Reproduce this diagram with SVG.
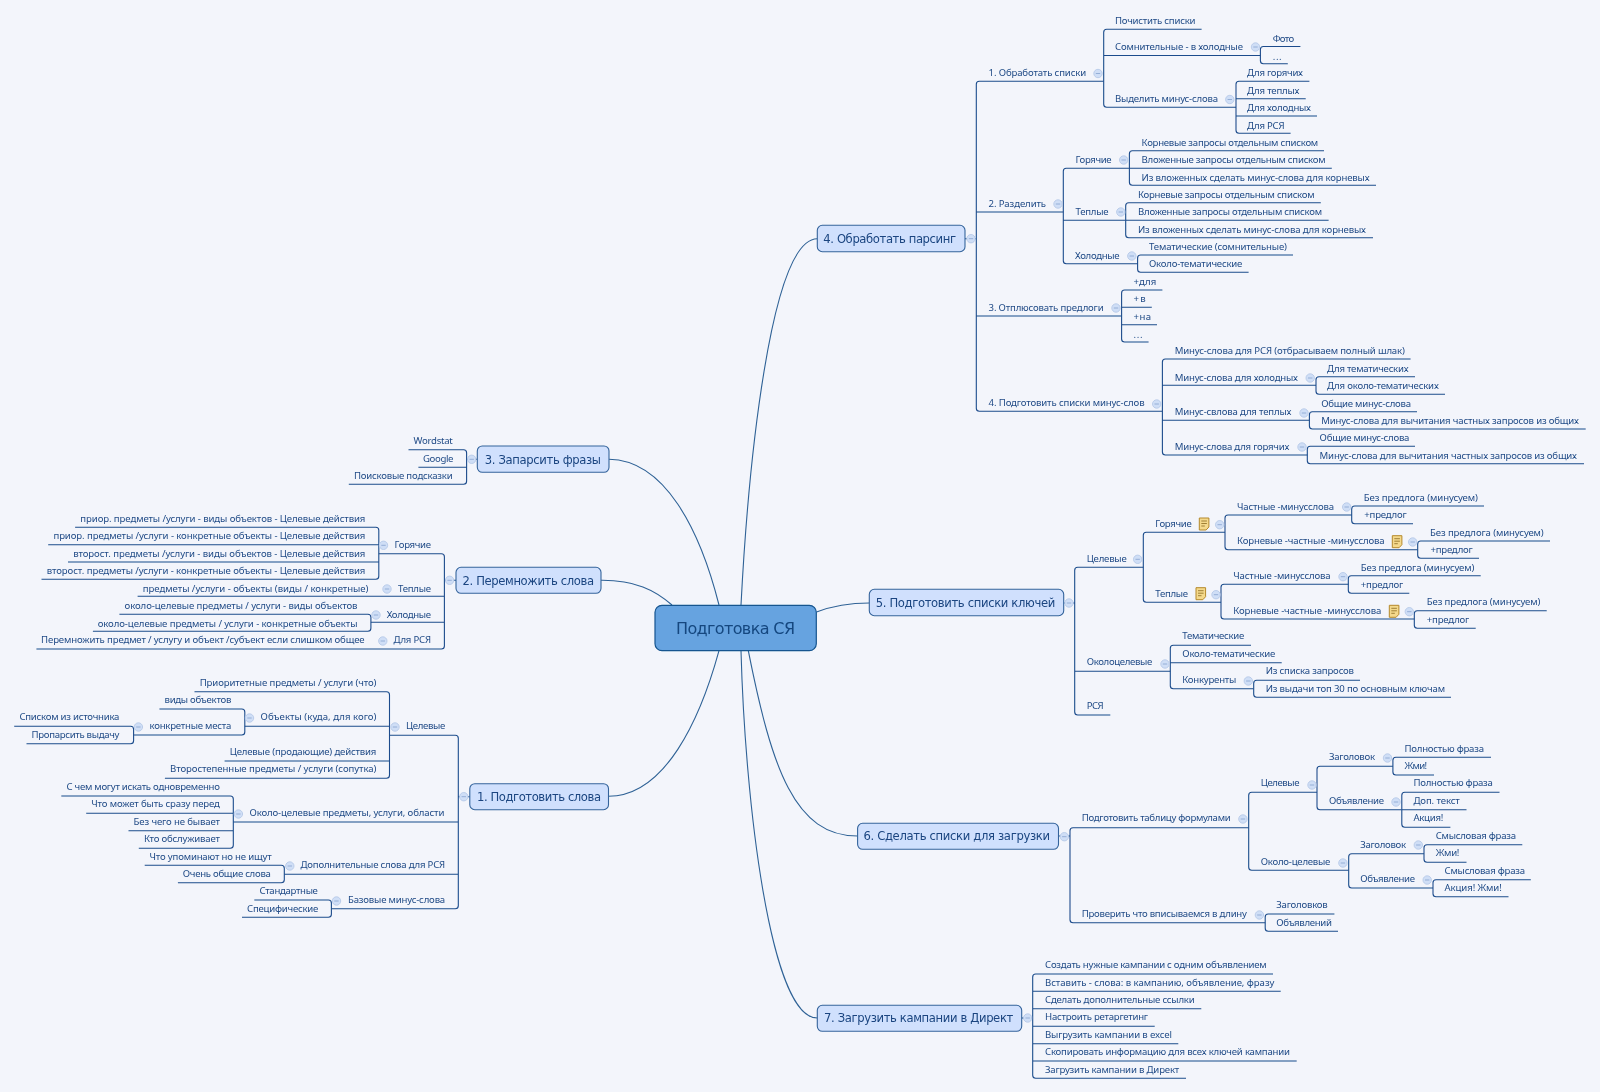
<svg xmlns="http://www.w3.org/2000/svg" width="1600" height="1092" viewBox="0 0 1600 1092">
<style>
text{font-family:"Noto Sans","DejaVu Sans",sans-serif;fill:#1f4a86}
.t{font-size:9.6px;transform:translateY(-.7px)}
.m{font-family:"DejaVu Sans",sans-serif;font-size:11.6px;fill:#1a4580}
.r{font-family:"DejaVu Sans",sans-serif;font-size:16px;fill:#14477f}
.box{fill:#d0e0fd;stroke:#34649c;stroke-width:1.1}
.root{fill:#66a3e0;stroke:#14548f;stroke-width:1.2}
#connectors path{fill:none;stroke:#1c4c8c;stroke-width:1.1}
#connectors .cv{stroke:#2f6296}
#c circle{fill:#cfdef6;stroke:#b7c9e8;stroke-width:.9}
#c path{stroke:#8ea9d4;stroke-width:.9;fill:none}
#connectors,#root,g[id^="t"]{filter:url(#s)}
</style>
<defs>
<filter id="s" x="-5%" y="-5%" width="110%" height="110%"><feGaussianBlur stdDeviation="0.3"/></filter>
<g id="c"><circle r="4.2"/><path d="M-2.2,0H2.2"/></g>
<g id="n"><path d="M0,0H9.6V9L6.8,12H0Z" fill="#f4d98c" stroke="#b5892b" stroke-width="1"/><path d="M2,3H7.6M2,5.5H7.6M2,8H5.5" stroke="#8a6a20" stroke-width=".8" fill="none"/></g>
</defs>
<rect width="1600" height="1092" fill="#f3f5fb"/>
<g id="connectors">
<path class="cv" d="M741,605C748,470 770,239 817.3,238.7"/>
<path class="cv" d="M816.5,612C835,605 850,603 869.3,603"/>
<path class="cv" d="M748.3,650.7C772,770 795,836 857.6,836"/>
<path class="cv" d="M741,650.7C745,800 770,1018 817.3,1018"/>
<path class="cv" d="M609,459.3C665,460 700,530 719,605"/>
<path class="cv" d="M601,580.3C635,580 655,590 672,605"/>
<path class="cv" d="M608.5,796.3C665,796 700,720 719,650.7"/>
<path d="M1103.7,81.3H979.3Q976.3,81.3 976.3,84.3V408.3Q976.3,411.3 979.3,411.3H1162.4M976.3,212H1063.3M976.3,316H1121.6M965,238.7H976.3"/>
<path d="M1201.6,29.3H1106.7Q1103.7,29.3 1103.7,32.3V104.3Q1103.7,107.3 1106.7,107.3H1236M1103.7,55.5H1260.4"/>
<path d="M1300.4,46.5H1263.4Q1260.4,46.5 1260.4,49.5V60.7Q1260.4,63.7 1263.4,63.7H1287.8"/>
<path d="M1309.4,81.3H1239Q1236,81.3 1236,84.3V130.3Q1236,133.3 1239,133.3H1290.6M1236,98.7H1305.7M1236,116H1317"/>
<path d="M1129.4,168.3H1066.3Q1063.3,168.3 1063.3,171.3V260.7Q1063.3,263.7 1066.3,263.7H1137.6M1063.3,220.3H1125.7"/>
<path d="M1324,150.7H1132.4Q1129.4,150.7 1129.4,153.7V182.3Q1129.4,185.3 1132.4,185.3H1376M1129.4,168.3H1331.8"/>
<path d="M1320.8,202.7H1128.7Q1125.7,202.7 1125.7,205.7V234.7Q1125.7,237.7 1128.7,237.7H1373M1125.7,220.3H1328.6"/>
<path d="M1293,255H1140.6Q1137.6,255 1137.6,258V269.3Q1137.6,272.3 1140.6,272.3H1248.6"/>
<path d="M1162.4,290H1124.6Q1121.6,290 1121.6,293V339Q1121.6,342 1124.6,342H1148.6M1121.6,307.3H1151.8M1121.6,324.7H1157"/>
<path d="M1410.6,359H1165.4Q1162.4,359 1162.4,362V452Q1162.4,455 1165.4,455H1307.3M1162.4,385.3H1316M1162.4,420.3H1309.4"/>
<path d="M1415,376.7H1319Q1316,376.7 1316,379.7V391.3Q1316,394.3 1319,394.3H1445"/>
<path d="M1417,411.7H1312.4Q1309.4,411.7 1309.4,414.7V426Q1309.4,429 1312.4,429H1585.7"/>
<path d="M1415,446.3H1310.3Q1307.3,446.3 1307.3,449.3V460.7Q1307.3,463.7 1310.3,463.7H1584"/>
<path d="M1143.3,567.3H1077.7Q1074.7,567.3 1074.7,570.3V712Q1074.7,715 1077.7,715H1110.3M1074.7,671.3H1170.3M1063.7,603H1074.7"/>
<path d="M1225,532.3H1146.3Q1143.3,532.3 1143.3,535.3V599.3Q1143.3,602.3 1146.3,602.3H1221"/>
<path d="M1351.7,515H1228Q1225,515 1225,518V546.7Q1225,549.7 1228,549.7H1417.7"/>
<path d="M1484,506H1354.7Q1351.7,506 1351.7,509V520.7Q1351.7,523.7 1354.7,523.7H1413"/>
<path d="M1550,541H1420.7Q1417.7,541 1417.7,544V555.3Q1417.7,558.3 1420.7,558.3H1479"/>
<path d="M1348.3,584.3H1224Q1221,584.3 1221,587.3V616Q1221,619 1224,619H1414.3"/>
<path d="M1480.7,575.7H1351.3Q1348.3,575.7 1348.3,578.7V590.3Q1348.3,593.3 1351.3,593.3H1409.3"/>
<path d="M1546.7,610.7H1417.3Q1414.3,610.7 1414.3,613.7V625.3Q1414.3,628.3 1417.3,628.3H1475.7"/>
<path d="M1251,645.3H1173.3Q1170.3,645.3 1170.3,648.3V685.7Q1170.3,688.7 1173.3,688.7H1253.7M1170.3,662.7H1281.7"/>
<path d="M1360,680.3H1256.7Q1253.7,680.3 1253.7,683.3V694.3Q1253.7,697.3 1256.7,697.3H1451"/>
<path d="M1248.7,827.7H1073Q1070,827.7 1070,830.7V919.7Q1070,922.7 1073,922.7H1265.2M1058.5,836H1070"/>
<path d="M1317,792.3H1251.7Q1248.7,792.3 1248.7,795.3V867.3Q1248.7,870.3 1251.7,870.3H1348.7"/>
<path d="M1392.9,766.3H1320Q1317,766.3 1317,769.3V806.7Q1317,809.7 1320,809.7H1401.8"/>
<path d="M1491,757.3H1395.9Q1392.9,757.3 1392.9,760.3V772Q1392.9,775 1395.9,775H1434"/>
<path d="M1499.5,792.3H1404.8Q1401.8,792.3 1401.8,795.3V824.3Q1401.8,827.3 1404.8,827.3H1450.4M1401.8,809.7H1466.5"/>
<path d="M1424,853.7H1351.7Q1348.7,853.7 1348.7,856.7V885Q1348.7,888 1351.7,888H1433"/>
<path d="M1522.3,844.7H1427Q1424,844.7 1424,847.7V859.3Q1424,862.3 1427,862.3H1466.5"/>
<path d="M1530.8,879.7H1436Q1433,879.7 1433,882.7V893.7Q1433,896.7 1436,896.7H1508.5"/>
<path d="M1334.4,914H1268.2Q1265.2,914 1265.2,917V928.3Q1265.2,931.3 1268.2,931.3H1338"/>
<path d="M1273,974H1035.7Q1032.7,974 1032.7,977V1075.3Q1032.7,1078.3 1035.7,1078.3H1186M1032.7,991.3H1280.7M1032.7,1008.7H1201.3M1032.7,1026.3H1154.7M1032.7,1043.7H1178.3M1032.7,1061H1296.7M1021.7,1018H1032.7"/>
<path d="M408.5,449.7H463.6Q466.6,449.7 466.6,452.7V481.3Q466.6,484.3 463.6,484.3H348.8M466.6,467.3H418.4M477.3,459.3H466.6"/>
<path d="M378.8,553.7H441.4Q444.4,553.7 444.4,556.7V646Q444.4,649 441.4,649H36.4M444.4,596.3H137.6M444.4,622.3H370.9M456,580.3H444.4"/>
<path d="M75.1,527.3H375.8Q378.8,527.3 378.8,530.3V576.3Q378.8,579.3 375.8,579.3H41.5M378.8,544.7H48.2M378.8,562H68"/>
<path d="M119.4,614.3H367.9Q370.9,614.3 370.9,617.3V628.3Q370.9,631.3 367.9,631.3H92.9"/>
<path d="M389.5,735.3H455.3Q458.3,735.3 458.3,738.3V905.7Q458.3,908.7 455.3,908.7H331.4M458.3,822H233.3M458.3,874.3H284.3M469.8,796.7H458.3"/>
<path d="M194.5,691.7H386.5Q389.5,691.7 389.5,694.7V775.3Q389.5,778.3 386.5,778.3H164.9M389.5,726.3H244.8M389.5,761H224.6"/>
<path d="M159.4,709H241.8Q244.8,709 244.8,712V732Q244.8,735 241.8,735H133.6"/>
<path d="M14.2,726.3H130.6Q133.6,726.3 133.6,729.3V740.7Q133.6,743.7 130.6,743.7H26.5"/>
<path d="M61.3,796H230.3Q233.3,796 233.3,799V845.3Q233.3,848.3 230.3,848.3H138.8M233.3,813.3H86.2M233.3,830.7H128.5"/>
<path d="M144.7,865.3H281.3Q284.3,865.3 284.3,868.3V879.7Q284.3,882.7 281.3,882.7H177.9"/>
<path d="M254.3,900H328.4Q331.4,900 331.4,903V914.3Q331.4,917.3 328.4,917.3H242"/>
</g>
<g id="root"><rect class="root" x="655" y="605.3" width="161.3" height="45.4" rx="7"/><text class="r" x="676" y="634" textLength="119">Подготовка СЯ</text></g>

<g id="t4"><rect class="box" x="817.3" y="225.3" width="147.7" height="26.4" rx="5"/><text class="m" x="823.3" y="243" textLength="132.7">4. Обработать парсинг</text><use href="#c" x="971" y="238.7"/></g>
<g id="t4-1"><text class="t" x="988.6" y="76.8" textLength="97.6">1. Обработать списки</text><use href="#c" x="1098" y="73.5"/></g>
<g id="t4-1-1"><text class="t" x="1115" y="24.5" textLength="80.5">Почистить списки</text></g>
<g id="t4-1-2"><text class="t" x="1115" y="50.5" textLength="128">Сомнительные - в холодные</text><use href="#c" x="1255.5" y="47"/></g>
<g id="t4-1-2-1"><text class="t" x="1272.7" y="42.5" textLength="21.5">Фото</text></g>
<g id="t4-1-2-2"><text class="t" x="1272.7" y="60.5" textLength="9">...</text></g>
<g id="t4-1-3"><text class="t" x="1115" y="103" textLength="103">Выделить минус-слова</text><use href="#c" x="1229.8" y="99.5"/></g>
<g id="t4-1-3-1"><text class="t" x="1247" y="77" textLength="56">Для горячих</text></g>
<g id="t4-1-3-2"><text class="t" x="1247" y="94.5" textLength="52.5">Для теплых</text></g>
<g id="t4-1-3-3"><text class="t" x="1247" y="111.5" textLength="64">Для холодных</text></g>
<g id="t4-1-3-4"><text class="t" x="1247" y="129.5" textLength="37.5">Для РСЯ</text></g>
<g id="t4-2"><text class="t" x="988.6" y="207.5" textLength="57.5">2. Разделить</text><use href="#c" x="1058" y="204"/></g>
<g id="t4-2-1"><text class="t" x="1075.5" y="164" textLength="36">Горячие</text><use href="#c" x="1123.7" y="160"/></g>
<g id="t4-2-1-1"><text class="t" x="1141.6" y="146.5" textLength="176.6">Корневые запросы отдельным списком</text></g>
<g id="t4-2-1-2"><text class="t" x="1141.6" y="164" textLength="184">Вложенные запросы отдельным списком</text></g>
<g id="t4-2-1-3"><text class="t" x="1141.6" y="181.5" textLength="228">Из вложенных сделать минус-слова для корневых</text></g>
<g id="t4-2-2"><text class="t" x="1075.5" y="215.5" textLength="33">Теплые</text><use href="#c" x="1120.8" y="212"/></g>
<g id="t4-2-2-1"><text class="t" x="1138" y="198.5" textLength="176.6">Корневые запросы отдельным списком</text></g>
<g id="t4-2-2-2"><text class="t" x="1138" y="216" textLength="184">Вложенные запросы отдельным списком</text></g>
<g id="t4-2-2-3"><text class="t" x="1138" y="233.5" textLength="228">Из вложенных сделать минус-слова для корневых</text></g>
<g id="t4-2-3"><text class="t" x="1075" y="259.5" textLength="44.6">Холодные</text><use href="#c" x="1131.8" y="256"/></g>
<g id="t4-2-3-1"><text class="t" x="1149" y="250.5" textLength="138">Тематические (сомнительные)</text></g>
<g id="t4-2-3-2"><text class="t" x="1149" y="268.2" textLength="93.4">Около-тематические</text></g>
<g id="t4-3"><text class="t" x="988.6" y="311.5" textLength="115">3. Отплюсовать предлоги</text><use href="#c" x="1116" y="308"/></g>
<g id="t4-3-1"><text class="t" x="1133.5" y="285.5" textLength="22.8">+для</text></g>
<g id="t4-3-2"><text class="t" x="1133.5" y="303.2" textLength="12.2">+в</text></g>
<g id="t4-3-3"><text class="t" x="1133.5" y="320.5" textLength="17.5">+на</text></g>
<g id="t4-3-4"><text class="t" x="1133.5" y="338.5" textLength="9">...</text></g>
<g id="t4-4"><text class="t" x="988.6" y="407.2" textLength="156">4. Подготовить списки минус-слов</text><use href="#c" x="1156.7" y="404"/></g>
<g id="t4-4-1"><text class="t" x="1174.7" y="355.2" textLength="230.2">Минус-слова для РСЯ (отбрасываем полный шлак)</text></g>
<g id="t4-4-2"><text class="t" x="1174.7" y="381.5" textLength="123.3">Минус-слова для холодных</text><use href="#c" x="1310.2" y="378"/></g>
<g id="t4-4-2-1"><text class="t" x="1327" y="372.5" textLength="81.6">Для тематических</text></g>
<g id="t4-4-2-2"><text class="t" x="1327" y="389.5" textLength="111.8">Для около-тематических</text></g>
<g id="t4-4-3"><text class="t" x="1174.7" y="416.2" textLength="116.7">Минус-свлова для теплых</text><use href="#c" x="1304" y="413"/></g>
<g id="t4-4-3-1"><text class="t" x="1321.2" y="407.5" textLength="89.8">Общие минус-слова</text></g>
<g id="t4-4-3-2"><text class="t" x="1321.2" y="424.5" textLength="257.8">Минус-слова для вычитания частных запросов из общих</text></g>
<g id="t4-4-4"><text class="t" x="1174.7" y="450.5" textLength="114.7">Минус-слова для горячих</text><use href="#c" x="1302" y="447"/></g>
<g id="t4-4-4-1"><text class="t" x="1319.6" y="442.2" textLength="89.8">Общие минус-слова</text></g>
<g id="t4-4-4-2"><text class="t" x="1319.6" y="459.5" textLength="257.4">Минус-слова для вычитания частных запросов из общих</text></g>

<g id="t5"><rect class="box" x="869.3" y="589.3" width="194.4" height="26.4" rx="5"/><text class="m" x="875.7" y="607.3" textLength="179.6">5. Подготовить списки ключей</text><use href="#c" x="1069" y="603"/></g>
<g id="t5-1"><text class="t" x="1086.7" y="562.8" textLength="40">Целевые</text><use href="#c" x="1137.7" y="559.3"/></g>
<g id="t5-1-1"><text class="t" x="1155.3" y="527.8" textLength="36.4">Горячие</text><use href="#n" x="1199.3" y="518"/><use href="#c" x="1219.7" y="524.7"/></g>
<g id="t5-1-1-1"><text class="t" x="1237" y="510.5" textLength="97">Частные -минусслова</text><use href="#c" x="1346.7" y="507"/></g>
<g id="t5-1-1-1-1"><text class="t" x="1363.7" y="501.8" textLength="114.3">Без предлога (минусуем)</text></g>
<g id="t5-1-1-1-2"><text class="t" x="1364.3" y="519.2" textLength="42.4">+предлог</text></g>
<g id="t5-1-1-2"><text class="t" x="1237" y="545.2" textLength="147.7">Корневые -частные -минусслова</text><use href="#n" x="1392.3" y="535.7"/><use href="#c" x="1412.7" y="542"/></g>
<g id="t5-1-1-2-1"><text class="t" x="1430" y="536.8" textLength="113.7">Без предлога (минусуем)</text></g>
<g id="t5-1-1-2-2"><text class="t" x="1430.5" y="554.2" textLength="42.2">+предлог</text></g>
<g id="t5-1-2"><text class="t" x="1155.3" y="597.5" textLength="32.7">Теплые</text><use href="#n" x="1196" y="587.7"/><use href="#c" x="1216" y="594.7"/></g>
<g id="t5-1-2-1"><text class="t" x="1233.3" y="580.2" textLength="97.4">Частные -минусслова</text><use href="#c" x="1343" y="576.7"/></g>
<g id="t5-1-2-1-1"><text class="t" x="1360.7" y="571.5" textLength="113.6">Без предлога (минусуем)</text></g>
<g id="t5-1-2-1-2"><text class="t" x="1360.7" y="588.8" textLength="42.6">+предлог</text></g>
<g id="t5-1-2-2"><text class="t" x="1233.3" y="614.8" textLength="148">Корневые -частные -минусслова</text><use href="#n" x="1389.3" y="605.3"/><use href="#c" x="1409.3" y="611.7"/></g>
<g id="t5-1-2-2-1"><text class="t" x="1426.7" y="606.2" textLength="113.6">Без предлога (минусуем)</text></g>
<g id="t5-1-2-2-2"><text class="t" x="1426.7" y="623.5" textLength="42.6">+предлог</text></g>
<g id="t5-2"><text class="t" x="1086.7" y="666.2" textLength="65.6">Околоцелевые</text><use href="#c" x="1165" y="664"/></g>
<g id="t5-2-1"><text class="t" x="1182.3" y="640.2" textLength="62">Тематические</text></g>
<g id="t5-2-2"><text class="t" x="1182.3" y="657.5" textLength="93">Около-тематические</text></g>
<g id="t5-2-3"><text class="t" x="1182.3" y="683.5" textLength="54">Конкуренты</text><use href="#c" x="1248.3" y="681"/></g>
<g id="t5-2-3-1"><text class="t" x="1265.7" y="674.9" textLength="88.3">Из списка запросов</text></g>
<g id="t5-2-3-2"><text class="t" x="1265.7" y="692.3" textLength="179.3">Из выдачи топ 30 по основным ключам</text></g>
<g id="t5-3"><text class="t" x="1086.7" y="709.5" textLength="17">РСЯ</text></g>

<g id="t6"><rect class="box" x="857.6" y="823.3" width="200.9" height="26" rx="5"/><text class="m" x="863.4" y="840.3" textLength="186.6">6. Сделать списки для загрузки</text><use href="#c" x="1064.3" y="836.7"/></g>
<g id="t6-1"><text class="t" x="1081.7" y="821.8" textLength="149">Подготовить таблицу формулами</text><use href="#c" x="1242.9" y="819"/></g>
<g id="t6-1-1"><text class="t" x="1260.7" y="787.2" textLength="38.8">Целевые</text><use href="#c" x="1312" y="785"/></g>
<g id="t6-1-1-1"><text class="t" x="1329" y="761.2" textLength="46">Заголовок</text><use href="#c" x="1387.5" y="758"/></g>
<g id="t6-1-1-1-1"><text class="t" x="1404.5" y="752.5" textLength="79.5">Полностью фраза</text></g>
<g id="t6-1-1-1-2"><text class="t" x="1404.5" y="769.8" textLength="22.5">Жми!</text></g>
<g id="t6-1-1-2"><text class="t" x="1329" y="804.5" textLength="55">Объявление</text><use href="#c" x="1396" y="802"/></g>
<g id="t6-1-1-2-1"><text class="t" x="1413.4" y="787.2" textLength="79.5">Полностью фраза</text></g>
<g id="t6-1-1-2-2"><text class="t" x="1413.4" y="804.5" textLength="46.4">Доп. текст</text></g>
<g id="t6-1-1-2-3"><text class="t" x="1413.4" y="821.8" textLength="29.9">Акция!</text></g>
<g id="t6-1-2"><text class="t" x="1260.7" y="865.5" textLength="69.7">Около-целевые</text><use href="#c" x="1342.9" y="863"/></g>
<g id="t6-1-2-1"><text class="t" x="1360.3" y="848.5" textLength="45.7">Заголовок</text><use href="#c" x="1418.3" y="845"/></g>
<g id="t6-1-2-1-1"><text class="t" x="1435.7" y="839.5" textLength="80.3">Смысловая фраза</text></g>
<g id="t6-1-2-1-2"><text class="t" x="1435.7" y="856.8" textLength="23.7">Жми!</text></g>
<g id="t6-1-2-2"><text class="t" x="1360.3" y="883.2" textLength="54.7">Объявление</text><use href="#c" x="1427.2" y="880"/></g>
<g id="t6-1-2-2-1"><text class="t" x="1444.6" y="874.5" textLength="80.4">Смысловая фраза</text></g>
<g id="t6-1-2-2-2"><text class="t" x="1444.6" y="891.5" textLength="57.2">Акция! Жми!</text></g>
<g id="t6-2"><text class="t" x="1081.7" y="917.5" textLength="165.2">Проверить что вписываемся в длину</text><use href="#c" x="1259.4" y="915"/></g>
<g id="t6-2-1"><text class="t" x="1276.3" y="908.5" textLength="51.4">Заголовков</text></g>
<g id="t6-2-2"><text class="t" x="1276.3" y="926.5" textLength="55.7">Объявлений</text></g>

<g id="t7"><rect class="box" x="817.3" y="1005.3" width="204.4" height="26" rx="5"/><text class="m" x="824" y="1022.3" textLength="189.3">7. Загрузить кампании в Директ</text><use href="#c" x="1027.7" y="1018"/></g>
<g id="t7-1"><text class="t" x="1045" y="968.8" textLength="221.7">Создать нужные кампании с одним объявлением</text></g>
<g id="t7-2"><text class="t" x="1045" y="986.5" textLength="229.3">Вставить - слова: в кампанию, объявление, фразу</text></g>
<g id="t7-3"><text class="t" x="1045" y="1003.5" textLength="149.7">Сделать дополнительные ссылки</text></g>
<g id="t7-4"><text class="t" x="1045" y="1021.2" textLength="103">Настроить ретаргетинг</text></g>
<g id="t7-5"><text class="t" x="1045" y="1038.5" textLength="127">Выгрузить кампании в excel</text></g>
<g id="t7-6"><text class="t" x="1045" y="1055.8" textLength="245">Скопировать информацию для всех ключей кампании</text></g>
<g id="t7-7"><text class="t" x="1045" y="1073.5" textLength="134.3">Загрузить кампании в Директ</text></g>

<g id="t3"><rect class="box" x="477.3" y="446" width="131.7" height="26.3" rx="5"/><text class="m" x="484.8" y="463.6" textLength="116.2">3. Запарсить фразы</text><use href="#c" x="471.7" y="459.3"/></g>
<g id="t3-1"><text class="t" x="413.6" y="445.2" textLength="39.1">Wordstat</text></g>
<g id="t3-2"><text class="t" x="423" y="462.5" textLength="30.5">Google</text></g>
<g id="t3-3"><text class="t" x="353.9" y="480.2" textLength="98.8">Поисковые подсказки</text></g>

<g id="t2"><rect class="box" x="456" y="567.3" width="145" height="26" rx="5"/><text class="m" x="462.6" y="584.6" textLength="131.4">2. Перемножить слова</text><use href="#c" x="449.6" y="580.3"/></g>
<g id="t2-1"><text class="t" x="394.6" y="548.8" textLength="36.4">Горячие</text><use href="#c" x="383.5" y="545.3"/></g>
<g id="t2-1-1"><text class="t" x="80.3" y="522.8" textLength="285.1">приор. предметы /услуги - виды объектов - Целевые действия</text></g>
<g id="t2-1-2"><text class="t" x="53.4" y="540.2" textLength="312">приор. предметы /услуги - конкретные объекты - Целевые действия</text></g>
<g id="t2-1-3"><text class="t" x="73.2" y="557.5" textLength="292.2">второст. предметы /услуги - виды объектов - Целевые действия</text></g>
<g id="t2-1-4"><text class="t" x="46.7" y="574.8" textLength="318.7">второст. предметы /услуги - конкретные объекты - Целевые действия</text></g>
<g id="t2-2"><text class="t" x="398" y="592.5" textLength="33">Теплые</text><use href="#c" x="387" y="589"/></g>
<g id="t2-2-1"><text class="t" x="142.7" y="592.5" textLength="225.8">предметы /услуги - объекты (виды / конкретные)</text></g>
<g id="t2-3"><text class="t" x="386.7" y="618.5" textLength="44.3">Холодные</text><use href="#c" x="376" y="615"/></g>
<g id="t2-3-1"><text class="t" x="124.6" y="609.5" textLength="232.9">около-целевые предметы / услуги - виды объектов</text></g>
<g id="t2-3-2"><text class="t" x="97.7" y="627.5" textLength="259.8">около-целевые предметы / услуги - конкретные объекты</text></g>
<g id="t2-4"><text class="t" x="393.4" y="643.5" textLength="37.6">Для РСЯ</text><use href="#c" x="382.8" y="641"/></g>
<g id="t2-4-1"><text class="t" x="41.1" y="643.5" textLength="323.5">Перемножить предмет / услугу и объект /субъект если слишком общее</text></g>

<g id="t1"><rect class="box" x="469.8" y="783.7" width="138.7" height="26" rx="5"/><text class="m" x="477" y="800.6" textLength="124">1. Подготовить слова</text><use href="#c" x="463.8" y="796.7"/></g>
<g id="t1-1"><text class="t" x="406" y="729.8" textLength="39.2">Целевые</text><use href="#c" x="395" y="727"/></g>
<g id="t1-1-1"><text class="t" x="199.7" y="686.5" textLength="176.7">Приоритетные предметы / услуги (что)</text></g>
<g id="t1-1-2"><text class="t" x="260.6" y="721.2" textLength="115.8">Объекты (куда, для кого)</text><use href="#c" x="249.5" y="718"/></g>
<g id="t1-1-2-1"><text class="t" x="164.5" y="703.5" textLength="66.8">виды объектов</text></g>
<g id="t1-1-2-2"><text class="t" x="149.5" y="729.8" textLength="81.8">конкретные места</text><use href="#c" x="138.4" y="727"/></g>
<g id="t1-1-2-2-1"><text class="t" x="19.4" y="721.2" textLength="100">Списком из источника</text></g>
<g id="t1-1-2-2-2"><text class="t" x="31.6" y="738.5" textLength="87.8">Пропарсить выдачу</text></g>
<g id="t1-1-3"><text class="t" x="229.7" y="755.8" textLength="146.7">Целевые (продающие) действия</text></g>
<g id="t1-1-4"><text class="t" x="170" y="773.2" textLength="206.4">Второстепенные предметы / услуги (сопутка)</text></g>
<g id="t1-2"><text class="t" x="249.5" y="816.8" textLength="194.9">Около-целевые предметы, услуги, области</text><use href="#c" x="238.4" y="814"/></g>
<g id="t1-2-1"><text class="t" x="66.4" y="790.5" textLength="153.5">С чем могут искать одновременно</text></g>
<g id="t1-2-2"><text class="t" x="91.3" y="807.8" textLength="128.6">Что может быть сразу перед</text></g>
<g id="t1-2-3"><text class="t" x="133.6" y="825.5" textLength="86.3">Без чего не бывает</text></g>
<g id="t1-2-4"><text class="t" x="143.9" y="842.8" textLength="76">Кто обслуживает</text></g>
<g id="t1-3"><text class="t" x="300.5" y="869.2" textLength="144.7">Дополнительные слова для РСЯ</text><use href="#c" x="289.8" y="866"/></g>
<g id="t1-3-1"><text class="t" x="149.5" y="860.5" textLength="122.1">Что упоминают но не ищут</text></g>
<g id="t1-3-2"><text class="t" x="182.7" y="877.8" textLength="88.2">Очень общие слова</text></g>
<g id="t1-4"><text class="t" x="348" y="903.5" textLength="97.2">Базовые минус-слова</text><use href="#c" x="336.5" y="901"/></g>
<g id="t1-4-1"><text class="t" x="259.4" y="894.8" textLength="58.5">Стандартные</text></g>
<g id="t1-4-2"><text class="t" x="247.1" y="912.5" textLength="71.2">Специфические</text></g>
</svg>
